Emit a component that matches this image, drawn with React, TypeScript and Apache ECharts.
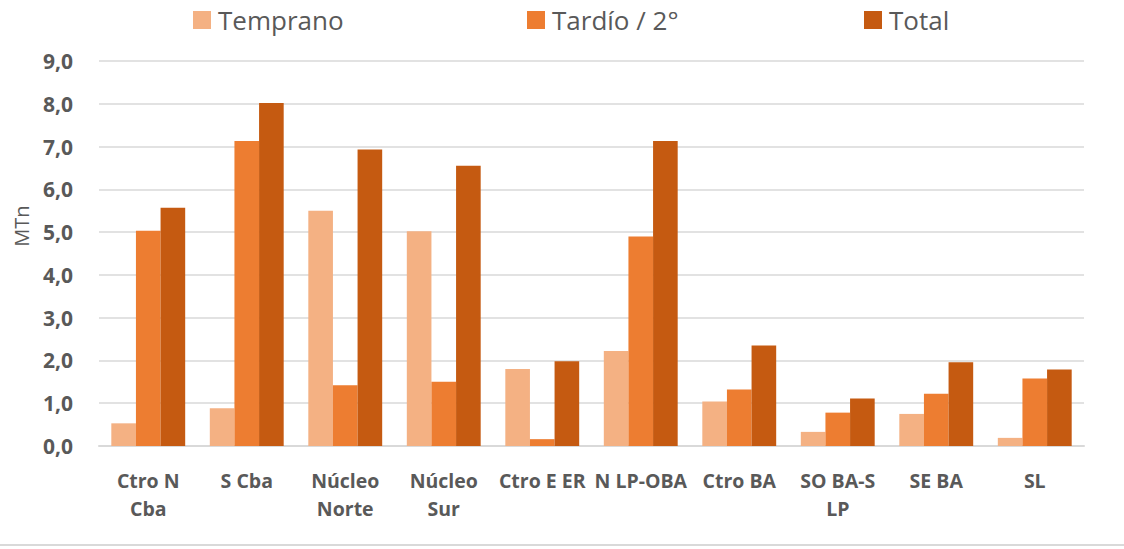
import React, { useEffect, useRef } from "react";
import * as echarts from "echarts";

const categories = [
  "Ctro N\nCba",
  "S Cba",
  "Núcleo\nNorte",
  "Núcleo\nSur",
  "Ctro E ER",
  "N LP-OBA",
  "Ctro BA",
  "SO BA-S\nLP",
  "SE BA",
  "SL",
];
const temprano = [0.53, 0.88, 5.5, 5.02, 1.8, 2.22, 1.04, 0.33, 0.75, 0.19];
const tardio = [5.03, 7.13, 1.42, 1.5, 0.16, 4.9, 1.32, 0.78, 1.22, 1.58];
const total = [5.57, 8.02, 6.93, 6.55, 1.98, 7.13, 2.35, 1.11, 1.96, 1.79];
const seriesNames = ["Temprano", "Tardío / 2°", "Total"];
const colors = ["#F4B183", "#ED7D31", "#C55A11"];
const legendLefts = [188, 522, 859];

export default function App() {
  const ref = useRef<HTMLDivElement>(null);
  useEffect(() => {
    if (!ref.current) return;
    const chart = echarts.init(ref.current, undefined, { renderer: "svg" });
    const font = "'Open Sans', 'Noto Sans', sans-serif";
    const data = [temprano, tardio, total];
    chart.setOption({
      animation: false,
      textStyle: { fontFamily: font },
      legend: seriesNames.map((n, i) => ({
        data: [n],
        left: legendLefts[i],
        top: 0,
        itemWidth: 18,
        itemHeight: 18,
        itemGap: 8,
        icon: "rect",
        textStyle: {
          fontSize: 26,
          lineHeight: 30,
          color: "#595959",
          fontFamily: font,
          padding: [0, 0, 0, 2],
        },
      })),
      grid: { left: 99, right: 40, top: 61, bottom: 103, containLabel: false },
      xAxis: {
        type: "category",
        data: categories,
        axisLine: { lineStyle: { color: "#d9d9d9", width: 2 } },
        axisTick: { show: false },
        axisLabel: {
          interval: 0,
          margin: 20,
          fontSize: 19.5,
          fontWeight: "bold",
          color: "#595959",
          lineHeight: 28,
          fontFamily: font,
        },
      },
      yAxis: {
        type: "value",
        min: 0,
        max: 9,
        interval: 1,
        axisLine: { show: false },
        axisTick: { show: false },
        splitLine: { lineStyle: { color: "#d9d9d9", width: 1.5 } },
        axisLabel: {
          margin: 26,
          fontSize: 21,
          fontWeight: "bold",
          color: "#595959",
          fontFamily: font,
          formatter: (v: number) => v.toFixed(1).replace(".", ","),
        },
      },
      series: seriesNames.map((n, i) => ({
        name: n,
        type: "bar",
        data: data[i],
        barGap: "0%",
        barCategoryGap: "25%",
        itemStyle: { color: colors[i] },
      })),
      graphic: [
        {
          type: "text",
          x: 21,
          y: 226,
          rotation: Math.PI / 2,
          style: {
            text: "MTn",
            fontSize: 20,
            fontFamily: font,
            fill: "#595959",
            align: "center",
            verticalAlign: "middle",
          },
        },
        {
          type: "line",
          shape: { x1: 0, y1: 545, x2: 1124, y2: 545 },
          style: { stroke: "#d9d9d9", lineWidth: 2 },
        },
      ],
    });
    return () => chart.dispose();
  }, []);
  return <div ref={ref} style={{ width: 1124, height: 549, position: "absolute", left: 0, top: 0 }} />;
}
